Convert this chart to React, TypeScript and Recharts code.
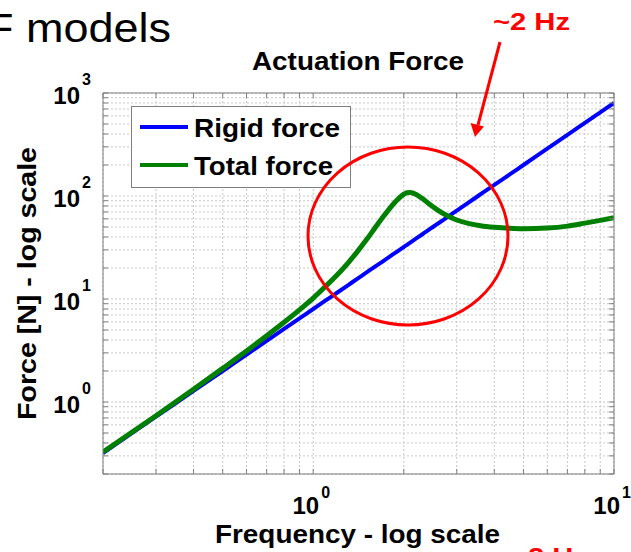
import React from "react";
import { LineChart, Line, XAxis, YAxis, CartesianGrid, Legend } from "recharts";

// Frequency [Hz] and force [N] samples
const frequency = [
  0.2, 0.3, 0.4, 0.5, 0.6, 0.7, 0.8, 0.9, 1.0, 1.1, 1.2, 1.3, 1.4, 1.5, 1.6, 1.7, 1.8, 1.9,
  2.0, 2.05, 2.1, 2.2, 2.3, 2.4, 2.5, 2.6, 2.8, 3.0, 3.3, 3.6, 4.0, 4.5, 5.0, 6.0, 7.0, 8.0, 9.0, 10,
];
const rigidForce = [
  0.32, 0.72, 1.28, 2.0, 2.88, 3.92, 5.12, 6.48, 8.0, 9.68, 11.5, 13.5, 15.7, 18.0, 20.5, 23.1, 25.9, 28.9,
  32.0, 33.6, 35.3, 38.7, 42.3, 46.1, 50.0, 54.1, 62.7, 72.0, 87.1, 104, 128, 162, 200, 288, 392, 512, 648, 800,
];
const totalForce = [
  0.327, 0.736, 1.33, 2.12, 3.12, 4.39, 5.94, 7.84, 10.2, 13.3, 17.1, 22.1, 28.7, 37.3, 48.4, 61.7, 76.4, 91.3,
  104, 107.5, 108, 103.5, 95, 86, 78.5, 72.5, 64, 58.5, 54, 51.5, 49.7, 48.5, 48, 48.8, 51, 54.5, 58, 61.5,
];

// Log axis ticks (decades get a "10^n" label, the rest are minor ticks)
const freqTicks = [0.2, 0.3, 0.4, 0.5, 0.6, 0.7, 0.8, 0.9, 1, 2, 3, 4, 5, 6, 7, 8, 9, 10];
const forceTicks = [
  0.2, 0.3, 0.4, 0.5, 0.6, 0.7, 0.8, 0.9, 1, 2, 3, 4, 5, 6, 7, 8, 9, 10, 20, 30, 40, 50, 60, 70, 80, 90,
  100, 200, 300, 400, 500, 600, 700, 800, 900, 1000,
];

const seriesNames = ["Rigid force", "Total force"];

const data = frequency.map((f, i) => ({ f, rigid: rigidForce[i], total: totalForce[i] }));

const AXIS_GRAY = "#7f7f7f";
const FONT = "'Liberation Sans', Arial, Helvetica, sans-serif";
const TICK_LEN = 5;

const decadeExponent = (v: number) => {
  const e = Math.round(Math.log10(v));
  return Math.abs(Math.log10(v) - e) < 1e-9 ? e : null;
};

function BottomTick({ x, y, payload }: any) {
  const exp = decadeExponent(payload.value);
  return (
    <g>
      <line x1={x} y1={y} x2={x} y2={y - TICK_LEN} stroke={AXIS_GRAY} />
      {exp !== null && (
        <>
          <text x={x + 6} y={y + 40} textAnchor="end" fontSize={24} fontWeight="bold" fontFamily={FONT} fill="#000">
            10
          </text>
          <text x={x + 8} y={y + 24} fontSize={16} fontWeight="bold" fontFamily={FONT} fill="#000">
            {exp}
          </text>
        </>
      )}
    </g>
  );
}

function TopTick({ x, y }: any) {
  return <line x1={x} y1={y} x2={x} y2={y + TICK_LEN} stroke={AXIS_GRAY} />;
}

function LeftTick({ x, y, payload }: any) {
  const exp = decadeExponent(payload.value);
  return (
    <g>
      <line x1={x} y1={y} x2={x + TICK_LEN} y2={y} stroke={AXIS_GRAY} />
      {exp !== null && (
        <>
          <text x={x - 23} y={y + 11} textAnchor="end" fontSize={24} fontWeight="bold" fontFamily={FONT} fill="#000">
            10
          </text>
          <text x={x - 21} y={y - 8} fontSize={16} fontWeight="bold" fontFamily={FONT} fill="#000">
            {exp}
          </text>
        </>
      )}
    </g>
  );
}

function RightTick({ x, y }: any) {
  return <line x1={x} y1={y} x2={x - TICK_LEN} y2={y} stroke={AXIS_GRAY} />;
}

const legendTextWidth: Record<string, number> = { "Rigid force": 146, "Total force": 139 };

function LegendBox({ payload }: any) {
  return (
    <svg width={220} height={82} style={{ display: "block" }}>
      <rect x={0.5} y={0.5} width={219} height={81} fill="#fff" stroke={AXIS_GRAY} />
      {(payload || []).map((p: any, i: number) => (
        <g key={p.value}>
          <line x1={9} x2={57} y1={21 + i * 38} y2={21 + i * 38} stroke={p.color} strokeWidth={4} />
          <text
            x={63}
            y={31 + i * 38}
            fontSize={26}
            fontWeight="bold"
            fontFamily={FONT}
            fill="#000"
            textLength={legendTextWidth[p.value]}
            lengthAdjust="spacingAndGlyphs"
          >
            {p.value}
          </text>
        </g>
      ))}
    </svg>
  );
}

const txt = { fontFamily: FONT, lengthAdjust: "spacingAndGlyphs" as const };

export default function App() {
  return (
    <div style={{ position: "absolute", left: 0, top: 0, width: 631, height: 552, background: "#fff" }}>
      <LineChart width={631} height={552} data={data} margin={{ top: 0, right: 0, bottom: 0, left: 0 }}>
        <CartesianGrid stroke="#c8c8c8" strokeDasharray="2 2" />
        <XAxis
          dataKey="f"
          type="number"
          scale="log"
          domain={[0.2, 10]}
          allowDataOverflow
          ticks={freqTicks}
          interval={0}
          height={78}
          tickSize={0}
          tickMargin={0}
          tickLine={false}
          axisLine={{ stroke: AXIS_GRAY }}
          tick={<BottomTick />}
        />
        <XAxis
          xAxisId="top"
          orientation="top"
          dataKey="f"
          type="number"
          scale="log"
          domain={[0.2, 10]}
          allowDataOverflow
          ticks={freqTicks}
          interval={0}
          height={93}
          tickSize={0}
          tickMargin={0}
          tickLine={false}
          axisLine={{ stroke: AXIS_GRAY }}
          tick={<TopTick />}
        />
        <YAxis
          type="number"
          scale="log"
          domain={[0.2, 1000]}
          allowDataOverflow
          ticks={forceTicks}
          interval={0}
          width={103}
          tickSize={0}
          tickMargin={0}
          tickLine={false}
          axisLine={{ stroke: AXIS_GRAY }}
          tick={<LeftTick />}
        />
        <YAxis
          yAxisId="right"
          orientation="right"
          type="number"
          scale="log"
          domain={[0.2, 1000]}
          allowDataOverflow
          ticks={forceTicks}
          interval={0}
          width={17}
          tickSize={0}
          tickMargin={0}
          tickLine={false}
          axisLine={{ stroke: AXIS_GRAY }}
          tick={<RightTick />}
        />
        <Legend
          layout="horizontal"
          align="center"
          verticalAlign="middle"
          wrapperStyle={{ left: 131, top: 106, width: 220, height: 82 }}
          content={<LegendBox />}
        />
        <Line
          dataKey="rigid"
          name={seriesNames[0]}
          type="monotone"
          stroke="#0000ff"
          strokeWidth={4}
          dot={false}
          isAnimationActive={false}
        />
        <Line
          dataKey="total"
          name={seriesNames[1]}
          type="monotone"
          stroke="#008000"
          strokeWidth={5}
          dot={false}
          isAnimationActive={false}
        />
      </LineChart>

      {/* titles, axis labels and the red resonance callout */}
      <svg
        width={631}
        height={552}
        style={{ position: "absolute", left: 0, top: 0, pointerEvents: "none" }}
      >
        <text x={-14} y={42} fontSize={40} fill="#000" textLength={185} {...txt}>
          F models
        </text>
        <text x={252} y={70} fontSize={25} fontWeight="bold" fill="#000" textLength={212} {...txt}>
          Actuation Force
        </text>
        <text
          transform="translate(36,420) rotate(-90)"
          fontSize={26}
          fontWeight="bold"
          fill="#000"
          textLength={273}
          {...txt}
        >
          Force [N] - log scale
        </text>
        <text x={215} y={543} fontSize={25} fontWeight="bold" fill="#000" textLength={285} {...txt}>
          Frequency - log scale
        </text>

        <text x={493} y={30} fontSize={24} fontWeight="bold" fill="#ff0000" textLength={77} {...txt}>
          ~2 Hz
        </text>
        <line x1={500} y1={42} x2={478} y2={125} stroke="#ff0000" strokeWidth={3} />
        <polygon points="475,137 470.5,123 484,126.5" fill="#ff0000" />
        <ellipse cx={408} cy={236} rx={100} ry={89} fill="none" stroke="#ff0000" strokeWidth={3} />
        <text x={511} y={565} fontSize={24} fontWeight="bold" fill="#ff0000" textLength={77} {...txt}>
          ~2 Hz
        </text>
      </svg>
    </div>
  );
}
